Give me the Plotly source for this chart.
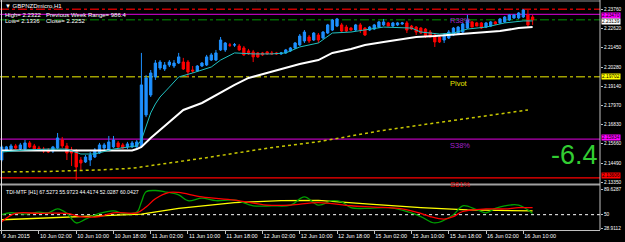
import plotly.graph_objects as go

# ---------------- data ----------------
bars = list(range(115))
opens = [2.1468, 2.1528, 2.1534, 2.1553, 2.1534, 2.1534, 2.1571, 2.1553, 2.1540, 2.1534,
         2.1528, 2.1522, 2.1540, 2.1589, 2.1553, 2.1528, 2.1522, 2.1468, 2.1456, 2.1468,
         2.1486, 2.1510, 2.1540, 2.1528, 2.1547, 2.1571, 2.1559, 2.1547, 2.1547, 2.1547,
         2.1553, 2.1740, 2.1860, 2.1969, 2.2023, 2.2017, 2.2041, 2.2035, 2.2053, 2.2059,
         2.2059, 2.2011, 2.2005, 2.2035, 2.2041, 2.2071, 2.2071, 2.2132, 2.2132, 2.2162,
         2.2162, 2.2156, 2.2144, 2.2126, 2.2120, 2.2114, 2.2114, 2.2120, 2.2114, 2.2114,
         2.2108, 2.2114, 2.2126, 2.2144, 2.2162, 2.2186, 2.2210, 2.2192, 2.2222, 2.2204,
         2.2234, 2.2252, 2.2276, 2.2283, 2.2270, 2.2264, 2.2252, 2.2283, 2.2264, 2.2252,
         2.2258, 2.2270, 2.2283, 2.2295, 2.2276, 2.2283, 2.2289, 2.2295, 2.2276, 2.2270,
         2.2264, 2.2258, 2.2240, 2.2222, 2.2210, 2.2192, 2.2204, 2.2222, 2.2234, 2.2240,
         2.2264, 2.2301, 2.2295, 2.2295, 2.2270, 2.2276, 2.2301, 2.2295, 2.2301, 2.2313,
         2.2325, 2.2325, 2.2331, 2.2343, 2.2331]
highs = [2.1559, 2.1553, 2.1565, 2.1565, 2.1571, 2.1589, 2.1583, 2.1565, 2.1553, 2.1547,
         2.1540, 2.1553, 2.1631, 2.1607, 2.1571, 2.1547, 2.1534, 2.1486, 2.1498, 2.1516,
         2.1540, 2.1571, 2.1571, 2.1613, 2.1613, 2.1583, 2.1571, 2.1577, 2.1583, 2.1589,
         2.2114, 2.1981, 2.2011, 2.2071, 2.2071, 2.2059, 2.2071, 2.2071, 2.2114, 2.2084,
         2.2071, 2.2035, 2.2041, 2.2059, 2.2102, 2.2114, 2.2132, 2.2210, 2.2180, 2.2174,
         2.2174, 2.2168, 2.2156, 2.2138, 2.2132, 2.2120, 2.2120, 2.2126, 2.2126, 2.2120,
         2.2120, 2.2138, 2.2150, 2.2180, 2.2228, 2.2252, 2.2222, 2.2240, 2.2234, 2.2246,
         2.2289, 2.2319, 2.2325, 2.2295, 2.2283, 2.2270, 2.2289, 2.2295, 2.2270, 2.2276,
         2.2289, 2.2307, 2.2319, 2.2301, 2.2301, 2.2301, 2.2301, 2.2307, 2.2283, 2.2276,
         2.2270, 2.2264, 2.2252, 2.2228, 2.2216, 2.2234, 2.2252, 2.2270, 2.2276, 2.2295,
         2.2343, 2.2307, 2.2301, 2.2301, 2.2301, 2.2307, 2.2307, 2.2325, 2.2337, 2.2349,
         2.2349, 2.2361, 2.2379, 2.2373, 2.2343]
lows = [2.1456, 2.1516, 2.1522, 2.1534, 2.1528, 2.1528, 2.1540, 2.1522, 2.1522, 2.1510,
        2.1510, 2.1510, 2.1534, 2.1540, 2.1468, 2.1432, 2.1347, 2.1408, 2.1450, 2.1432,
        2.1480, 2.1504, 2.1528, 2.1522, 2.1540, 2.1540, 2.1534, 2.1534, 2.1540, 2.1540,
        2.1540, 2.1727, 2.1848, 2.1951, 2.2011, 2.2005, 2.2029, 2.2023, 2.2047, 2.2011,
        2.1969, 2.1993, 2.1999, 2.2029, 2.2035, 2.2065, 2.2065, 2.2126, 2.2120, 2.2150,
        2.2150, 2.2126, 2.2096, 2.2102, 2.2059, 2.2084, 2.2096, 2.2102, 2.2102, 2.2102,
        2.2102, 2.2108, 2.2120, 2.2138, 2.2156, 2.2174, 2.2174, 2.2186, 2.2174, 2.2198,
        2.2228, 2.2246, 2.2270, 2.2240, 2.2240, 2.2246, 2.2246, 2.2234, 2.2216, 2.2246,
        2.2252, 2.2264, 2.2276, 2.2276, 2.2270, 2.2276, 2.2283, 2.2234, 2.2252, 2.2222,
        2.2228, 2.2204, 2.2210, 2.2150, 2.2174, 2.2174, 2.2198, 2.2216, 2.2228, 2.2234,
        2.2258, 2.2270, 2.2276, 2.2258, 2.2264, 2.2270, 2.2283, 2.2289, 2.2295, 2.2307,
        2.2319, 2.2319, 2.2325, 2.2270, 2.2283]
closes = [2.1547, 2.1547, 2.1553, 2.1540, 2.1559, 2.1571, 2.1547, 2.1528, 2.1528, 2.1522,
          2.1516, 2.1547, 2.1601, 2.1553, 2.1510, 2.1510, 2.1426, 2.1450, 2.1486, 2.1498,
          2.1528, 2.1559, 2.1559, 2.1577, 2.1589, 2.1547, 2.1540, 2.1565, 2.1571, 2.1577,
          2.1921, 2.1963, 2.1993, 2.2053, 2.2059, 2.2041, 2.2059, 2.2053, 2.2090, 2.2017,
          2.1999, 2.2005, 2.2035, 2.2053, 2.2090, 2.2102, 2.2114, 2.2192, 2.2174, 2.2161,
          2.2163, 2.2132, 2.2102, 2.2108, 2.2090, 2.2090, 2.2102, 2.2108, 2.2108, 2.2108,
          2.2114, 2.2132, 2.2144, 2.2174, 2.2216, 2.2240, 2.2186, 2.2234, 2.2192, 2.2240,
          2.2283, 2.2313, 2.2319, 2.2246, 2.2246, 2.2252, 2.2283, 2.2252, 2.2222, 2.2270,
          2.2283, 2.2301, 2.2301, 2.2276, 2.2295, 2.2295, 2.2295, 2.2252, 2.2258, 2.2240,
          2.2234, 2.2216, 2.2210, 2.2180, 2.2180, 2.2222, 2.2240, 2.2264, 2.2270, 2.2289,
          2.2313, 2.2270, 2.2276, 2.2264, 2.2295, 2.2301, 2.2289, 2.2319, 2.2331, 2.2343,
          2.2343, 2.2355, 2.2373, 2.2283, 2.2313]

# moving averages (bar index, price)
fast_ma_x = [0, 5, 10, 14, 17, 20, 24, 28, 29, 30, 31, 32, 33, 34, 36, 38, 41, 45, 47, 50,
             54, 58, 61, 64, 68, 71, 75, 82, 88, 90, 94, 97, 100, 104, 108, 112, 114]
fast_ma_y = [2.1516, 2.1528, 2.1534, 2.1534, 2.1504, 2.1504, 2.1534, 2.1547, 2.1553, 2.1589,
             2.1667, 2.1752, 2.1806, 2.1848, 2.1908, 2.1969, 2.1993, 2.2029, 2.2071, 2.2114,
             2.2108, 2.2108, 2.2114, 2.2150, 2.2174, 2.2234, 2.2240, 2.2270, 2.2264, 2.2240,
             2.2228, 2.2234, 2.2258, 2.2270, 2.2295, 2.2307, 2.2307]
slow_ma_x = [0, 14, 28, 29, 30, 32, 34, 35, 39, 43, 46, 50, 53, 57, 60, 64, 68, 71, 75, 78,
             82, 86, 89, 93, 96, 100, 103, 107, 111, 114]
slow_ma_y = [2.1525, 2.1525, 2.1525, 2.1534, 2.1547, 2.1601, 2.1649, 2.1673, 2.1770, 2.1812,
             2.1860, 2.1921, 2.1963, 2.1993, 2.2017, 2.2047, 2.2071, 2.2114, 2.2138, 2.2162,
             2.2180, 2.2198, 2.2210, 2.2216, 2.2222, 2.2234, 2.2240, 2.2246, 2.2264, 2.2270]
long_ma_x = [0, 10, 21, 28, 43, 57, 68, 81, 95, 113]
long_ma_y = [2.1396, 2.1399, 2.1408, 2.1418, 2.1478, 2.1539, 2.1578, 2.1643, 2.1699, 2.1770]

# horizontal levels
level_vals = [2.2377, 2.2347, 2.23139, 2.19702, 2.15934, 2.13606]
level_cols = ["#C80000", "#B400B4", "#006400", "#A0A000", "#B400B4", "#FF0000"]
level_dash = ["dashdot", "solid", "dashdot", "dashdot", "solid", "solid"]
level_names = ["", "R38%", "", "Pivot", "S38%", "S61%"]
level_text_cols = ["", "#A020C8", "", "#E6E600", "#A020C8", "#E00000"]
level_tags = ["", "2.23470", "2.23139", "2.19702", "2.15934", "2.13606"]
level_tag_bg = ["", "#FF00FF", "#FFFFFF", "#FFFF00", "#FF00FF", "#FF0000"]
level_tag_shift = [0, -1.3, -1.6, 0, 1.6, 2.2]

price_ticks = [2.2376, 2.2262, 2.2145, 2.2028, 2.1914, 2.1797, 2.1683, 2.1566, 2.1449, 2.1335]
price_tick_text = ["2.23760", "2.22620", "2.21450", "2.20280", "2.19140", "2.17970",
                   "2.16830", "2.15660", "2.14490", "2.13350"]

time_ticks = [0, 8, 16, 24, 32, 40, 48, 56, 64, 72, 80, 88, 96, 104, 112]
time_labels = ["9 Jun 2015", "10 Jun 02:00", "10 Jun 10:00", "10 Jun 18:00", "11 Jun 02:00",
               "11 Jun 10:00", "11 Jun 18:00", "12 Jun 02:00", "12 Jun 10:00", "12 Jun 18:00",
               "15 Jun 02:00", "15 Jun 10:00", "15 Jun 18:00", "16 Jun 02:00", "16 Jun 10:00"]

# TDI indicator lines (bar index, value)
tdi_green_x = [0, 2, 5, 8, 10, 12, 14, 16, 18, 21, 24, 26, 29, 30, 31, 33, 35, 38, 40, 43,
               46, 50, 54, 58, 62, 65, 68, 71, 73, 75, 79, 83, 86, 90, 93, 97, 99, 102, 104,
               106, 108, 111, 114]
tdi_green_y = [50, 53, 51, 54, 53, 59, 52, 37, 43, 52, 56, 52, 54, 70, 86, 88, 86, 81, 72, 76,
               72, 73, 64, 64, 65, 78, 65, 72, 70, 61, 60, 61, 57, 47, 37, 50, 64, 58, 53,
               60, 64, 65, 52]
tdi_red_x = [0, 3, 8, 14, 17, 21, 24, 29, 31, 33, 36, 38, 43, 50, 57, 62, 68, 75, 80, 86, 90,
             92, 95, 97, 99, 104, 108, 111, 114]
tdi_red_y = [39, 52, 52, 52, 47, 47, 53, 53, 62, 75, 85, 85, 78, 73, 65, 65, 69, 64, 62, 59, 52,
             47, 43, 47, 55, 59, 59, 61, 61]
tdi_yel_x = [0, 21, 30, 38, 50, 60, 68, 79, 90, 100, 114]
tdi_yel_y = [42, 48, 51, 60, 69, 72, 72.5, 66.5, 61, 57.5, 56]
tdi_ticks = [89.6287, 50, 28.9112]
tdi_tick_text = ["89.6287", "50", "28.9112"]

# ---------------- geometry ----------------
W, H = 625, 242
XD = 600 / W
main_dom = [(H - 183.5) / H, 1.0]
ind_dom = [(H - 230) / H, (H - 186) / H]
FONT = "Liberation Sans"

fig = go.Figure()
fig.add_trace(go.Candlestick(
    x=bars, open=opens, high=highs, low=lows, close=closes,
    increasing=dict(line=dict(color="#1E90FF", width=1), fillcolor="#1E90FF"),
    decreasing=dict(line=dict(color="#FF0000", width=1), fillcolor="#FF0000"),
    whiskerwidth=0, xaxis="x2", yaxis="y", hoverinfo="skip", showlegend=False))
fig.add_trace(go.Scatter(x=long_ma_x, y=long_ma_y, mode="lines",
                         line=dict(color="#C8C800", width=1.5, dash="dot"),
                         xaxis="x2", yaxis="y", showlegend=False))
fig.add_trace(go.Scatter(x=slow_ma_x, y=slow_ma_y, mode="lines",
                         line=dict(color="#FFFFFF", width=2), xaxis="x2", yaxis="y",
                         showlegend=False))
fig.add_trace(go.Scatter(x=fast_ma_x, y=fast_ma_y, mode="lines",
                         line=dict(color="#20C0C0", width=1), xaxis="x2", yaxis="y",
                         showlegend=False))

# indicator
fig.add_trace(go.Scatter(x=[bars[0] - 1, bars[-1] + 20], y=[50, 50], mode="lines",
                         line=dict(color="#FFFFFF", width=1, dash="dot"),
                         xaxis="x", yaxis="y2", showlegend=False))
fig.add_trace(go.Scatter(x=tdi_yel_x, y=tdi_yel_y, mode="lines",
                         line=dict(color="#FFFF00", width=1.3), xaxis="x", yaxis="y2",
                         showlegend=False))
fig.add_trace(go.Scatter(x=tdi_green_x, y=tdi_green_y, mode="lines",
                         line=dict(color="#00A000", width=1.3, shape="spline"),
                         xaxis="x", yaxis="y2", showlegend=False))
fig.add_trace(go.Scatter(x=tdi_red_x, y=tdi_red_y, mode="lines",
                         line=dict(color="#FF0000", width=1.3, shape="spline"),
                         xaxis="x", yaxis="y2", showlegend=False))

shapes = []
annotations = []
for v, c, d, name, tc, tag, bg, sh in zip(level_vals, level_cols, level_dash, level_names,
                                          level_text_cols, level_tags, level_tag_bg,
                                          level_tag_shift):
    shapes.append(dict(type="line", xref="paper", yref="y", x0=0, x1=XD, y0=v, y1=v,
                       line=dict(color=c, width=1.5 if d != "solid" else 1.3, dash=d),
                       layer="below"))
    if name:
        annotations.append(dict(x=95.8, y=v, xref="x2", yref="y", text=name, showarrow=False,
                                xanchor="left", yanchor="top",
                                font=dict(family=FONT, size=7.5, color=tc)))
    if tag:
        annotations.append(dict(x=XD + 0.002, y=v, xref="paper", yref="y", text=tag,
                                showarrow=False, xanchor="left", yanchor="middle",
                                bgcolor=bg, borderpad=0, yshift=sh,
                                font=dict(family=FONT, size=4.8, color="#000000")))

# borders / separators
shapes.append(dict(type="line", xref="paper", yref="paper", x0=0, x1=XD,
                   y0=(H - 184.5) / H, y1=(H - 184.5) / H,
                   line=dict(color="#A0A0A0", width=2)))
shapes.append(dict(type="line", xref="paper", yref="paper", x0=0, x1=XD,
                   y0=(H - 1) / H, y1=(H - 1) / H, line=dict(color="#909090", width=1)))
shapes.append(dict(type="line", xref="paper", yref="paper", x0=1.5 / W, x1=1.5 / W,
                   y0=(H - 230) / H, y1=1, line=dict(color="#E0E0E0", width=1)))
shapes.append(dict(type="line", xref="paper", yref="paper", x0=XD, x1=XD,
                   y0=(H - 230) / H, y1=1, line=dict(color="#C0C0C0", width=1)))

# texts
annotations += [
    dict(x=3 / W, y=1 - 1 / H, xref="paper", yref="paper", xanchor="left", yanchor="top",
         text="\u25BC GBPNZDmicro,H1", showarrow=False,
         font=dict(family=FONT, size=6, color="#FFFFFF")),
    dict(x=3 / W, y=1 - 9.5 / H, xref="paper", yref="paper", xanchor="left", yanchor="top",
         text="High= 2.2322", showarrow=False, font=dict(family=FONT, size=6, color="#FFFFFF")),
    dict(x=44 / W, y=1 - 9.5 / H, xref="paper", yref="paper", xanchor="left", yanchor="top",
         text="Previous Week Range= 986.4", showarrow=False,
         font=dict(family=FONT, size=6, color="#FFFFFF")),
    dict(x=3 / W, y=1 - 16.5 / H, xref="paper", yref="paper", xanchor="left", yanchor="top",
         text="Low= 2.1336", showarrow=False, font=dict(family=FONT, size=6, color="#FFFFFF")),
    dict(x=44 / W, y=1 - 16.5 / H, xref="paper", yref="paper", xanchor="left", yanchor="top",
         text="Close= 2.2252", showarrow=False, font=dict(family=FONT, size=6, color="#FFFFFF")),
    dict(x=574 / W, y=(H - 155) / H, xref="paper", yref="paper", xanchor="center",
         yanchor="middle", text="-6.4", showarrow=False,
         font=dict(family=FONT, size=27, color="#32CD32")),
    dict(x=4 / W, y=(H - 187) / H, xref="paper", yref="paper", xanchor="left", yanchor="top",
         text="TDI-MTF [H1] 67.5273 55.9723 44.4174 52.0287 60.0427", showarrow=False,
         font=dict(family=FONT, size=5.2, color="#FFFFFF")),
]

xr = [-0.365, 128.47]
fig.update_layout(
    width=W, height=H, margin=dict(l=0, r=0, t=0, b=0, autoexpand=False),
    paper_bgcolor="#000000", plot_bgcolor="#000000",
    showlegend=False, shapes=shapes, annotations=annotations,
    xaxis=dict(domain=[0, XD], anchor="y2", range=xr, tickvals=time_ticks, ticktext=time_labels,
               tickangle=0, automargin=False,
               ticklabelposition="outside right", ticks="outside", ticklen=3,
               tickcolor="#C0C0C0", showgrid=False, zeroline=False, showline=True,
               linecolor="#C0C0C0", linewidth=1,
               tickfont=dict(family=FONT, size=5.5, color="#FFFFFF")),
    xaxis2=dict(domain=[0, XD], anchor="y", range=xr, matches="x", showticklabels=False,
                automargin=False, showgrid=False, zeroline=False,
                rangeslider=dict(visible=False)),
    yaxis=dict(domain=main_dom, anchor="x2", side="right", range=[2.13262, 2.24333],
               automargin=False,
               tickvals=price_ticks, ticktext=price_tick_text, ticks="outside", ticklen=2,
               tickcolor="#C0C0C0", showgrid=False, zeroline=False,
               tickfont=dict(family=FONT, size=4.8, color="#FFFFFF")),
    yaxis2=dict(domain=ind_dom, anchor="x", side="right", range=[25.9, 95.1],
                automargin=False,
                tickvals=tdi_ticks, ticktext=tdi_tick_text, ticks="outside", ticklen=2,
                tickcolor="#C0C0C0", showgrid=False, zeroline=False,
                tickfont=dict(family=FONT, size=4.8, color="#FFFFFF")),
)

fig.write_html("out.html")
